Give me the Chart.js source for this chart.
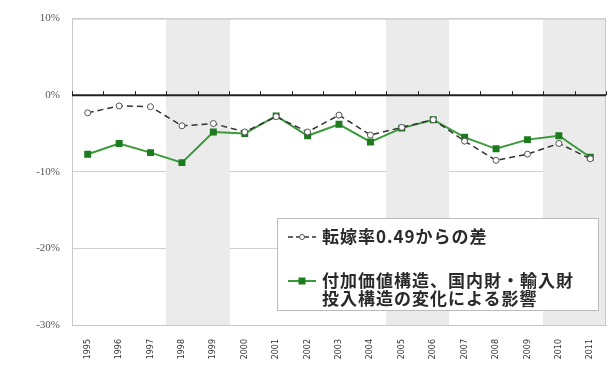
<!DOCTYPE html>
<html>
<head>
<meta charset="utf-8">
<script src="https://cdn.jsdelivr.net/npm/chart.js@4/dist/chart.umd.min.js"></script>
<style>
  html, body { margin: 0; padding: 0; background: #fff; }
  #wrap { position: relative; width: 612px; height: 369px; }
  #legend {
    position: absolute; left: 277px; top: 218px; width: 322px; height: 93px;
    box-sizing: border-box; border: 1px solid #bbb; background: #fff;
    font-family: "Noto Sans CJK JP", sans-serif; font-size: 17px; color: #2a2a2a; font-weight: bold;
    letter-spacing: 1px;
  }
  .lg-row { position: absolute; left: 8px; display: flex; align-items: flex-start; }
  .lg-row canvas { margin-right: 4px; margin-top: 1px; }
  .lg-text { line-height: 18px; }
</style>
</head>
<body>
<div id="wrap">
  <canvas id="chart" width="612" height="369"></canvas>
  <div id="legend"></div>
</div>
<script>
// データ
const years = ['1995','1996','1997','1998','1999','2000','2001','2002','2003','2004','2005','2006','2007','2008','2009','2010','2011'];
const passThroughDiff = [-2.3, -1.4, -1.5, -4.0, -3.7, -4.8, -2.8, -4.8, -2.6, -5.2, -4.2, -3.2, -6.0, -8.5, -7.7, -6.3, -8.3];
const structureEffect = [-7.7, -6.3, -7.5, -8.8, -4.8, -5.0, -2.7, -5.3, -3.8, -6.1, -4.3, -3.2, -5.5, -7.0, -5.8, -5.3, -8.1];
const shadedCats = [3, 4, 10, 11, 15, 16];
const legendLabels = ['転嫁率0.49からの差', '付加価値構造、国内財・輸入財\n投入構造の変化による影響'];

// 背景の網掛け・枠・0%線の目盛り
const backdrop = {
  id: 'backdrop',
  beforeDatasetsDraw(chart) {
    const { ctx, chartArea: a, scales: { x, y } } = chart;
    const half = (x.getPixelForValue(1) - x.getPixelForValue(0)) / 2;
    ctx.save();
    ctx.fillStyle = '#ebebeb';
    shadedCats.forEach(i => {
      const c = x.getPixelForValue(i);
      const l = Math.floor(c - half), r = Math.ceil(c + half);
      ctx.fillRect(l, a.top, r - l, a.bottom - a.top);
    });
    ctx.strokeStyle = '#c8c8c8';
    ctx.lineWidth = 1;
    ctx.strokeRect(a.left + 0.5, a.top + 0.5, a.right - a.left - 1, a.bottom - a.top);
    // zero line
    const y0 = y.getPixelForValue(0);
    ctx.strokeStyle = '#222';
    ctx.lineWidth = 2;
    ctx.beginPath();
    ctx.moveTo(a.left, y0); ctx.lineTo(a.right, y0);
    ctx.stroke();
    ctx.lineWidth = 1;
    for (let i = 0; i <= years.length; i++) {
      const px = Math.round(x.getPixelForValue(i) - half) + 0.5;
      ctx.beginPath();
      ctx.moveTo(px, y0 - 4); ctx.lineTo(px, y0);
      ctx.stroke();
    }
    ctx.restore();
  }
};

const chart = new Chart(document.getElementById('chart'), {
  type: 'line',
  data: {
    labels: years,
    datasets: [
      {
        label: legendLabels[0],
        data: passThroughDiff,
        borderColor: '#333',
        borderWidth: 1.5,
        borderDash: [6, 4],
        pointStyle: 'circle',
        pointRadius: 3,
        pointBackgroundColor: '#fff',
        pointBorderColor: '#555',
        pointBorderWidth: 1,
        tension: 0,
      },
      {
        label: legendLabels[1],
        data: structureEffect,
        borderColor: '#3a9a3a',
        borderWidth: 2,
        pointStyle: 'rect',
        pointRadius: 3.5,
        pointBackgroundColor: '#1d7a1d',
        pointBorderColor: '#1d7a1d',
        tension: 0,
      },
    ],
  },
  options: {
    responsive: false,
    animation: false,
    layout: { padding: { top: 15, right: 6, left: 0, bottom: 0 } },
    plugins: { legend: { display: false }, tooltip: { enabled: false } },
    scales: {
      x: {
        offset: true,
        grid: { display: false },
        border: { color: '#c8c8c8' },
        ticks: {
          color: '#333', font: { size: 8, family: 'DejaVu Sans' },
          maxRotation: 90, minRotation: 90, autoSkip: false, padding: 6,
        },
        afterFit: s => { s.height = 44; },
      },
      y: {
        min: -30, max: 10,
        grid: {
          color: ctx => ctx.tick.value === 0 ? 'rgba(0,0,0,0)' : '#cfcfcf',
          drawTicks: false,
        },
        border: { display: false },
        ticks: {
          stepSize: 10, color: '#555', padding: 12,
          font: { size: 11, family: 'Liberation Serif' },
          callback: v => v + '%',
        },
        afterFit: s => { s.width = 72; },
      },
    },
  },
  plugins: [backdrop],
});

// 凡例
const legendEl = document.getElementById('legend');
const rowsTop = [8, 52];
chart.data.datasets.forEach((ds, i) => {
  const row = document.createElement('div');
  row.className = 'lg-row';
  row.style.top = rowsTop[i] + 'px';
  const c = document.createElement('canvas');
  c.width = 32; c.height = 18;
  const g = c.getContext('2d');
  g.strokeStyle = ds.borderColor;
  g.lineWidth = ds.borderWidth;
  if (ds.borderDash) g.setLineDash([5, 3]);
  g.beginPath(); g.moveTo(2, 9); g.lineTo(30, 9); g.stroke();
  g.setLineDash([]);
  if (ds.pointStyle === 'rect') {
    g.fillStyle = ds.pointBackgroundColor;
    g.fillRect(12.5, 5.5, 7, 7);
  } else {
    g.fillStyle = '#fff'; g.strokeStyle = '#555'; g.lineWidth = 1;
    g.beginPath(); g.arc(16, 9, 2.5, 0, Math.PI * 2); g.fill(); g.stroke();
  }
  row.appendChild(c);
  const t = document.createElement('div');
  t.className = 'lg-text';
  t.innerHTML = ds.label.split('\n').join('<br>');
  row.appendChild(t);
  legendEl.appendChild(row);
});
</script>
</body>
</html>
